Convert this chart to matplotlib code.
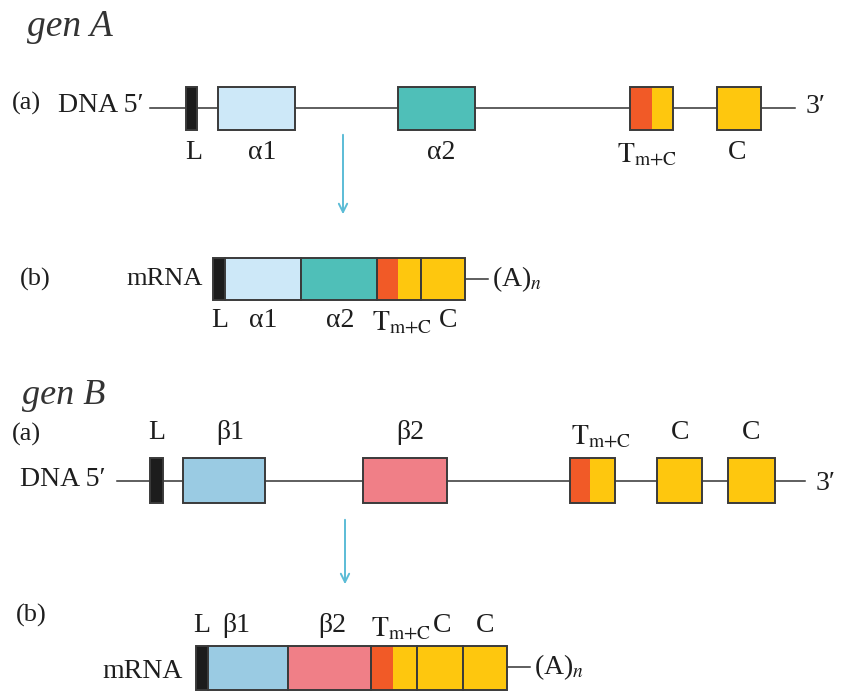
import matplotlib.pyplot as plt
from matplotlib.patches import Rectangle

plt.rcParams['font.family'] = ['Liberation Serif', 'DejaVu Serif']
plt.rcParams['mathtext.fontset'] = 'stix'
plt.rcParams['text.color'] = '#1e1e1e'

# colours of the segments
colors = {'L': '#1c1c1c', 'a1': '#cde8f8', 'a2': '#4fbfb8', 'T': '#f15a27',
          'C': '#fec70e', 'b1': '#9acbe3', 'b2': '#f07f87'}
edge = '#3a3a3a'
arrow_col = '#5bbcd6'
TMC = r'$\mathrm{T}_{\mathrm{m{+}C}}$'

# gene A - DNA
dnaA_parts = ['L', 'a1', 'a2', 'T', 'C']
dnaA_start = [186, 218, 398, 630, 717]
dnaA_end = [197, 295, 475, 673, 761]
dnaA_labels = ['L', 'α1', 'α2', 'C']
dnaA_label_x = [194, 262, 441, 737]
dnaA_tmc_x = 617
dnaA_T_split = 0.51

# gene A - mRNA
mrnaA_parts = ['L', 'a1', 'a2', 'T', 'C']
mrnaA_edges = [213, 225, 301, 377, 421, 465]
mrnaA_labels = ['L', 'α1', 'α2', 'C']
mrnaA_label_x = [220, 263, 340, 448]
mrnaA_tmc_x = 372
mrnaA_T_split = 0.48

# gene B - DNA
dnaB_parts = ['L', 'b1', 'b2', 'T', 'C', 'C']
dnaB_start = [150, 183, 363, 570, 657, 728]
dnaB_end = [163, 265, 447, 615, 702, 775]
dnaB_labels = ['L', 'β1', 'β2', 'C', 'C']
dnaB_label_x = [157, 230, 410, 680, 751]
dnaB_tmc_x = 571
dnaB_T_split = 0.44

# gene B - mRNA
mrnaB_parts = ['L', 'b1', 'b2', 'T', 'C', 'C']
mrnaB_edges = [196, 208, 288, 371, 417, 463, 507]
mrnaB_labels = ['L', 'β1', 'β2', 'C', 'C']
mrnaB_label_x = [202, 236, 332, 442, 485]
mrnaB_tmc_x = 371
mrnaB_T_split = 0.48


def box(ax, x0, x1, y0, y1, part, split):
    if part == 'T':
        xs = x0 + split * (x1 - x0)
        ax.add_patch(Rectangle((x0, y0), xs - x0, y1 - y0, fc=colors['T'], ec='none', zorder=2))
        ax.add_patch(Rectangle((xs, y0), x1 - xs, y1 - y0, fc=colors['C'], ec='none', zorder=2))
        ax.add_patch(Rectangle((x0, y0), x1 - x0, y1 - y0, fc='none', ec=edge, lw=1.4, zorder=3))
    else:
        ax.add_patch(Rectangle((x0, y0), x1 - x0, y1 - y0, fc=colors[part],
                               ec=edge, lw=1.4, zorder=3))


fig = plt.figure(figsize=(8.45, 6.94), dpi=100)
ax = fig.add_axes([0, 0, 1, 1])
ax.set_xlim(0, 845)
ax.set_ylim(694, 0)
ax.axis('off')

fs = 20
arrow_style = dict(arrowstyle='->,head_length=0.6,head_width=0.3', color=arrow_col, lw=1.4)

# ---- gen A ----
ax.text(27, 27, 'gen A', fontsize=27, style='italic', va='center', color='#333')
ax.text(12, 103, '(a)', fontsize=19, va='center')
ax.text(58, 105, 'DNA 5′', fontsize=fs, va='center')
ax.plot([150, 795], [108, 108], color='#333', lw=1.1, zorder=1)
ax.text(806, 106, '3′', fontsize=fs, va='center')
for p, s, e in zip(dnaA_parts, dnaA_start, dnaA_end):
    box(ax, s, e, 87, 130, p, dnaA_T_split)
for lab, x in zip(dnaA_labels, dnaA_label_x):
    ax.text(x, 152, lab, fontsize=fs, ha='center', va='center')
ax.text(dnaA_tmc_x, 154, TMC, fontsize=fs, ha='left', va='center')

ax.annotate('', xy=(343, 217), xytext=(343, 132), arrowprops=arrow_style)

ax.text(20, 279, '(b)', fontsize=19, va='center')
ax.text(203, 279, 'mRNA', fontsize=19, ha='right', va='center')
for i, p in enumerate(mrnaA_parts):
    box(ax, mrnaA_edges[i], mrnaA_edges[i + 1], 258, 300, p, mrnaA_T_split)
ax.plot([mrnaA_edges[-1], 488], [279, 279], color='#333', lw=1.1)
ax.text(492, 279, r'(A)$_{n}$', fontsize=fs, va='center')
for lab, x in zip(mrnaA_labels, mrnaA_label_x):
    ax.text(x, 320, lab, fontsize=fs, ha='center', va='center')
ax.text(mrnaA_tmc_x, 322, TMC, fontsize=fs, ha='left', va='center')

# ---- gen B ----
ax.text(22, 395, 'gen B', fontsize=26, style='italic', va='center', color='#333')
ax.text(12, 434, '(a)', fontsize=19, va='center')
ax.text(20, 479, 'DNA 5′', fontsize=fs, va='center')
ax.plot([117, 805], [481, 481], color='#333', lw=1.1, zorder=1)
ax.text(816, 483, '3′', fontsize=fs, va='center')
for p, s, e in zip(dnaB_parts, dnaB_start, dnaB_end):
    box(ax, s, e, 458, 503, p, dnaB_T_split)
for lab, x in zip(dnaB_labels, dnaB_label_x):
    ax.text(x, 432, lab, fontsize=fs, ha='center', va='center')
ax.text(dnaB_tmc_x, 436, TMC, fontsize=fs, ha='left', va='center')

ax.annotate('', xy=(345, 587), xytext=(345, 517), arrowprops=arrow_style)

ax.text(16, 615, '(b)', fontsize=19, va='center')
ax.text(183, 672, 'mRNA', fontsize=fs, ha='right', va='center')
for i, p in enumerate(mrnaB_parts):
    box(ax, mrnaB_edges[i], mrnaB_edges[i + 1], 646, 690, p, mrnaB_T_split)
ax.plot([mrnaB_edges[-1], 530], [667, 667], color='#333', lw=1.1)
ax.text(534, 667, r'(A)$_{n}$', fontsize=fs, va='center')
for lab, x in zip(mrnaB_labels, mrnaB_label_x):
    ax.text(x, 625, lab, fontsize=fs, ha='center', va='center')
ax.text(mrnaB_tmc_x, 628, TMC, fontsize=fs, ha='left', va='center')

fig.savefig('out.png', dpi=100)
